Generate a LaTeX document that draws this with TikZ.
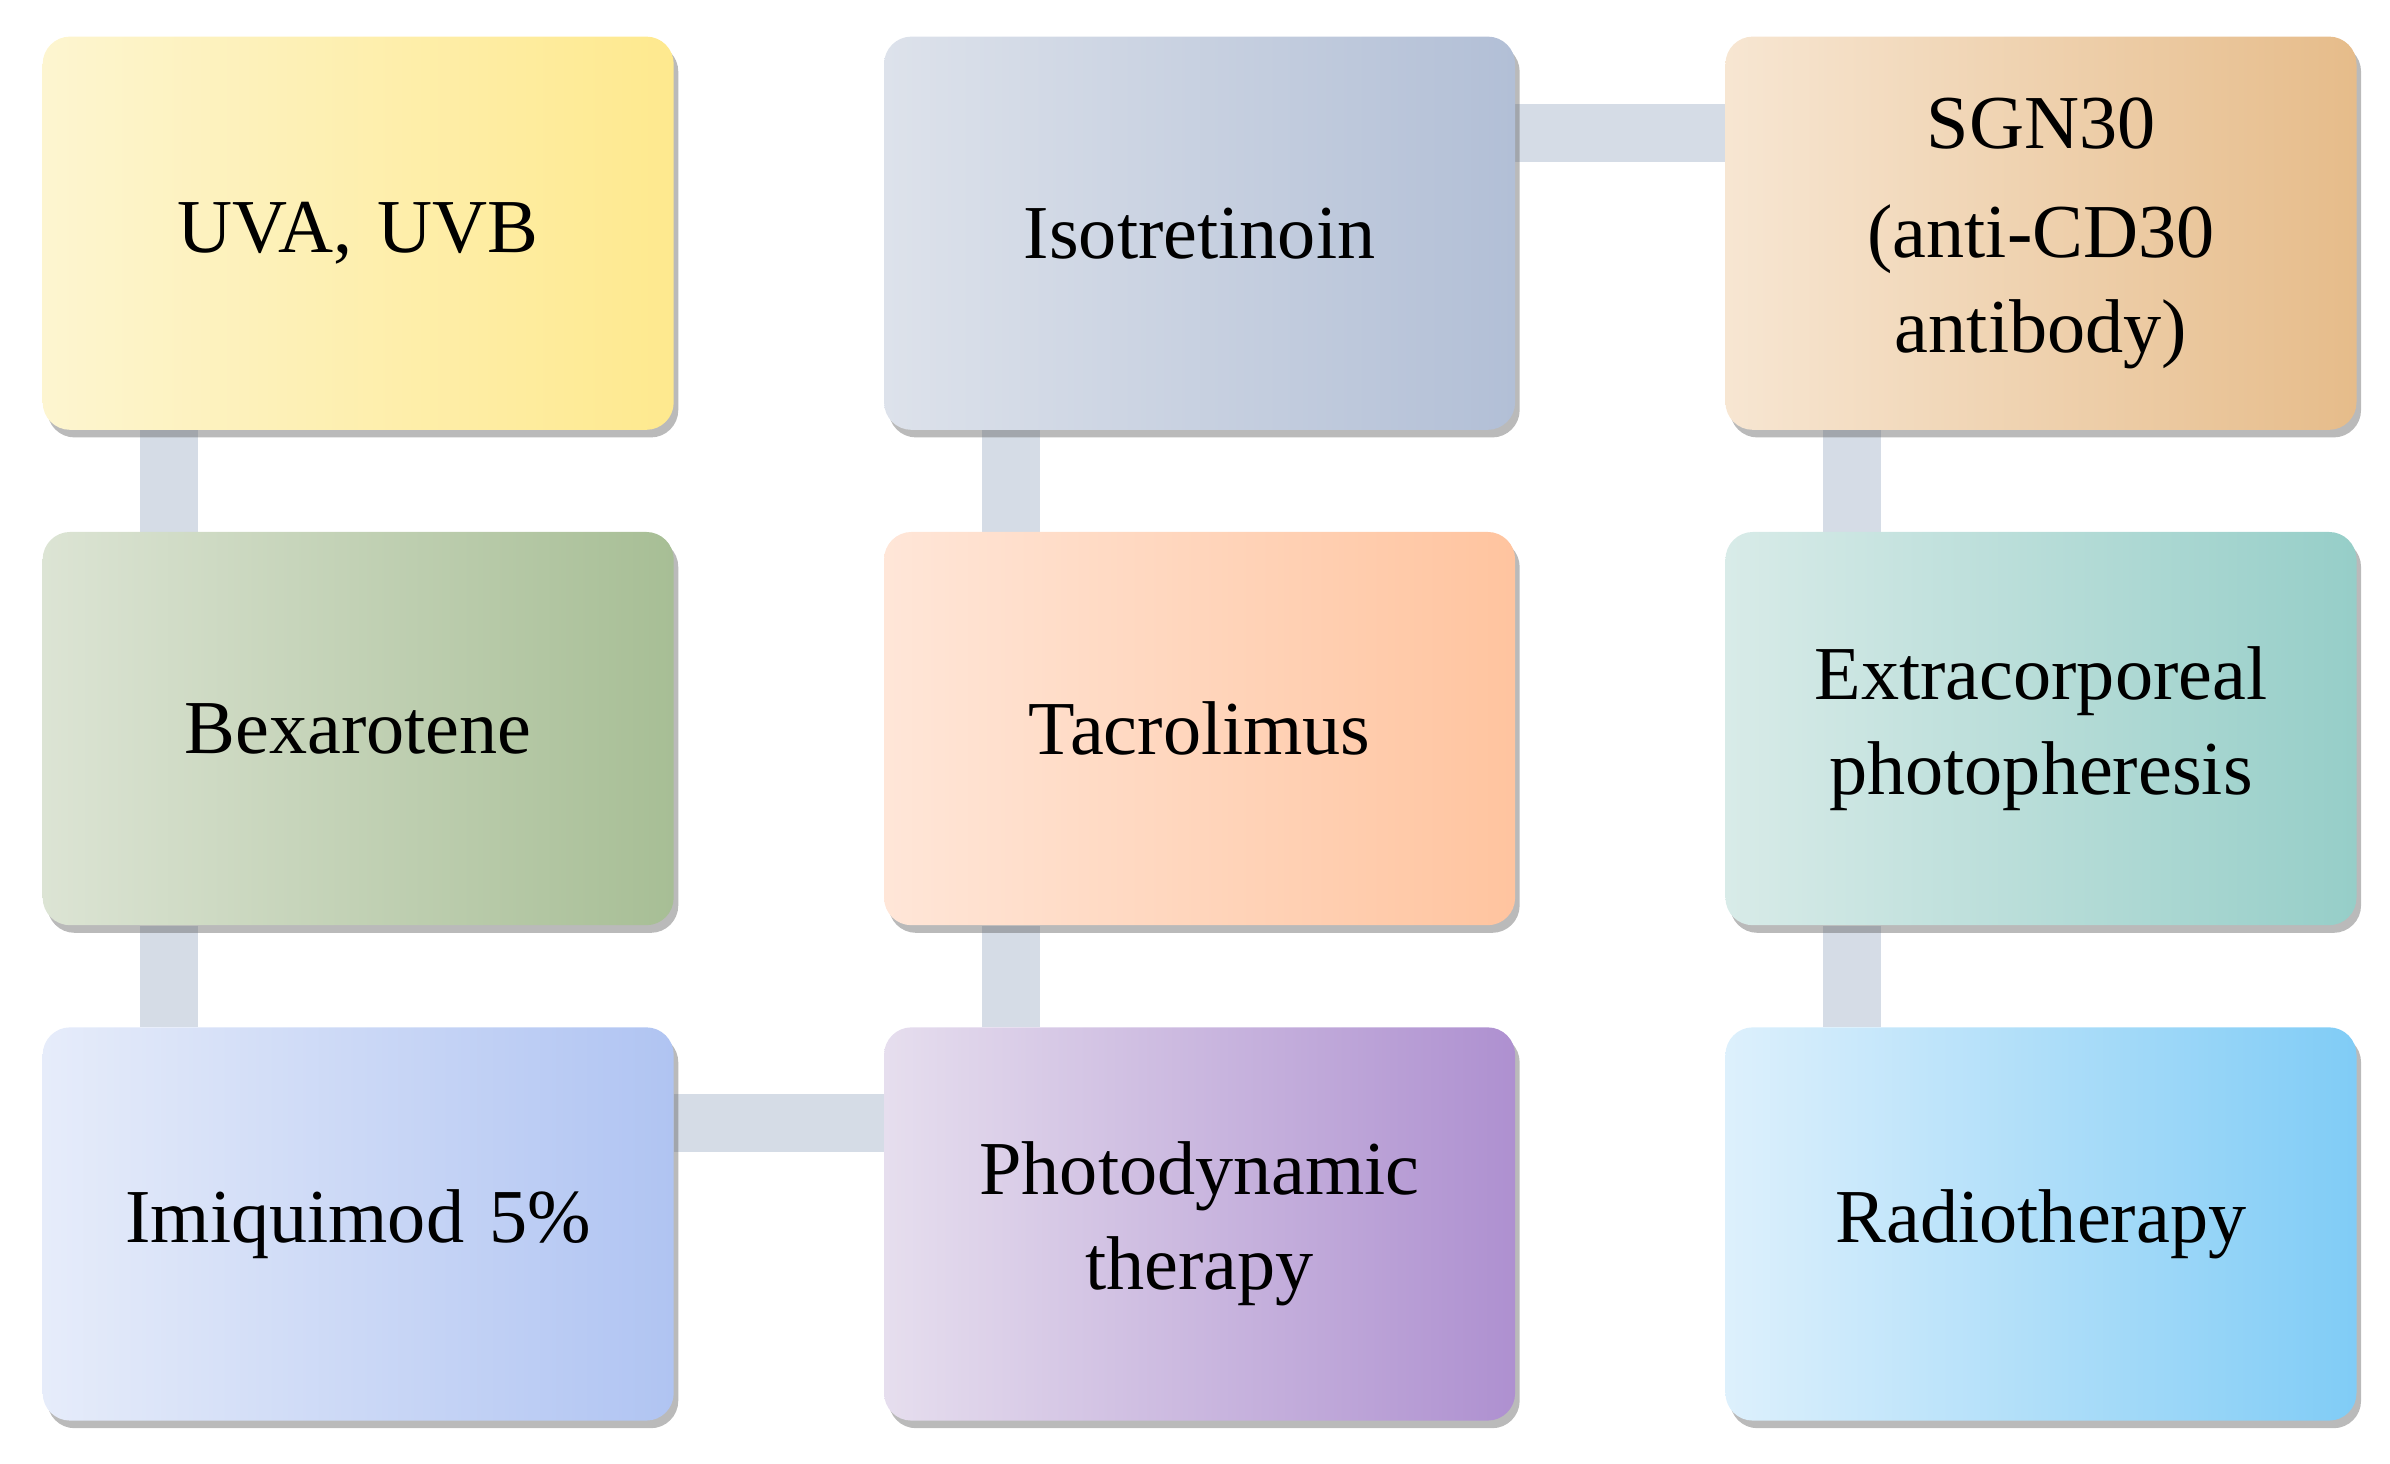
\documentclass[tikz,border=0pt]{standalone}
\usepackage{fontspec}
\setmainfont{Liberation Serif}
\usetikzlibrary{shadows,backgrounds}
\definecolor{barc}{HTML}{D5DCE6}
\definecolor{a1}{HTML}{FDF5D0}\definecolor{a2}{HTML}{FEE98E}
\definecolor{b1}{HTML}{DDE2EB}\definecolor{b2}{HTML}{B2BFD6}
\definecolor{c1}{HTML}{F7E6D2}\definecolor{c2}{HTML}{E6BC8A}
\definecolor{d1}{HTML}{DCE4D4}\definecolor{d2}{HTML}{A7BE95}
\definecolor{e1}{HTML}{FFE6D8}\definecolor{e2}{HTML}{FFC49F}
\definecolor{f1}{HTML}{D8EBE8}\definecolor{f2}{HTML}{96CEC8}
\definecolor{g1}{HTML}{E6ECFA}\definecolor{g2}{HTML}{B0C4F2}
\definecolor{h1}{HTML}{E6DEEE}\definecolor{h2}{HTML}{AE90D0}
\definecolor{i1}{HTML}{DDF0FC}\definecolor{i2}{HTML}{80CCF6}
\begin{document}
\begin{tikzpicture}[x=1pt,y=-1pt,
 box/.style 2 args={draw=none,rounded corners=18pt,minimum width=414pt,minimum height=258pt,
   left color=#1,right color=#2,text width=380pt,align=center,
   font=\fontsize{50}{62}\selectfont,
   drop shadow={shadow xshift=3pt,shadow yshift=-5pt,opacity=0.45,fill=black!60}},
 bar/.style={line width=38pt,barc}]
\useasboundingbox (0,0) rectangle (1568,960);
\node[box={a1}{a2}] (uva) at (235,153) {UVA, UVB};
\node[box={b1}{b2}] (iso) at (787,153) {Isotretinoin};
\node[box={c1}{c2}] (sgn) at (1339,153) {SGN30\\[10pt](anti-CD30\\antibody)};
\node[box={d1}{d2}] (bex) at (235,478) {Bexarotene};
\node[box={e1}{e2}] (tac) at (787,478) {Tacrolimus};
\node[box={f1}{f2}] (ecp) at (1339,478) {Extracorporeal\\photopheresis};
\node[box={g1}{g2}] (imi) at (235,803) {Imiquimod 5\%};
\node[box={h1}{h2}] (pdt) at (787,803) {Photodynamic\\therapy};
\node[box={i1}{i2}] (rad) at (1339,803) {Radiotherapy};
\begin{pgfonlayer}{background}
\draw[bar] ([xshift=-124pt]uva.south) -- ([xshift=-124pt]bex.north);
\draw[bar] ([xshift=-124pt]bex.south) -- ([xshift=-124pt]imi.north);
\draw[bar] ([yshift=66pt]imi.east) -- ([yshift=66pt]pdt.west);
\draw[bar] ([xshift=-124pt]pdt.north) -- ([xshift=-124pt]tac.south);
\draw[bar] ([xshift=-124pt]tac.north) -- ([xshift=-124pt]iso.south);
\draw[bar] ([yshift=66pt]iso.east) -- ([yshift=66pt]sgn.west);
\draw[bar] ([xshift=-124pt]sgn.south) -- ([xshift=-124pt]ecp.north);
\draw[bar] ([xshift=-124pt]ecp.south) -- ([xshift=-124pt]rad.north);
\end{pgfonlayer}
\end{tikzpicture}
\end{document}
